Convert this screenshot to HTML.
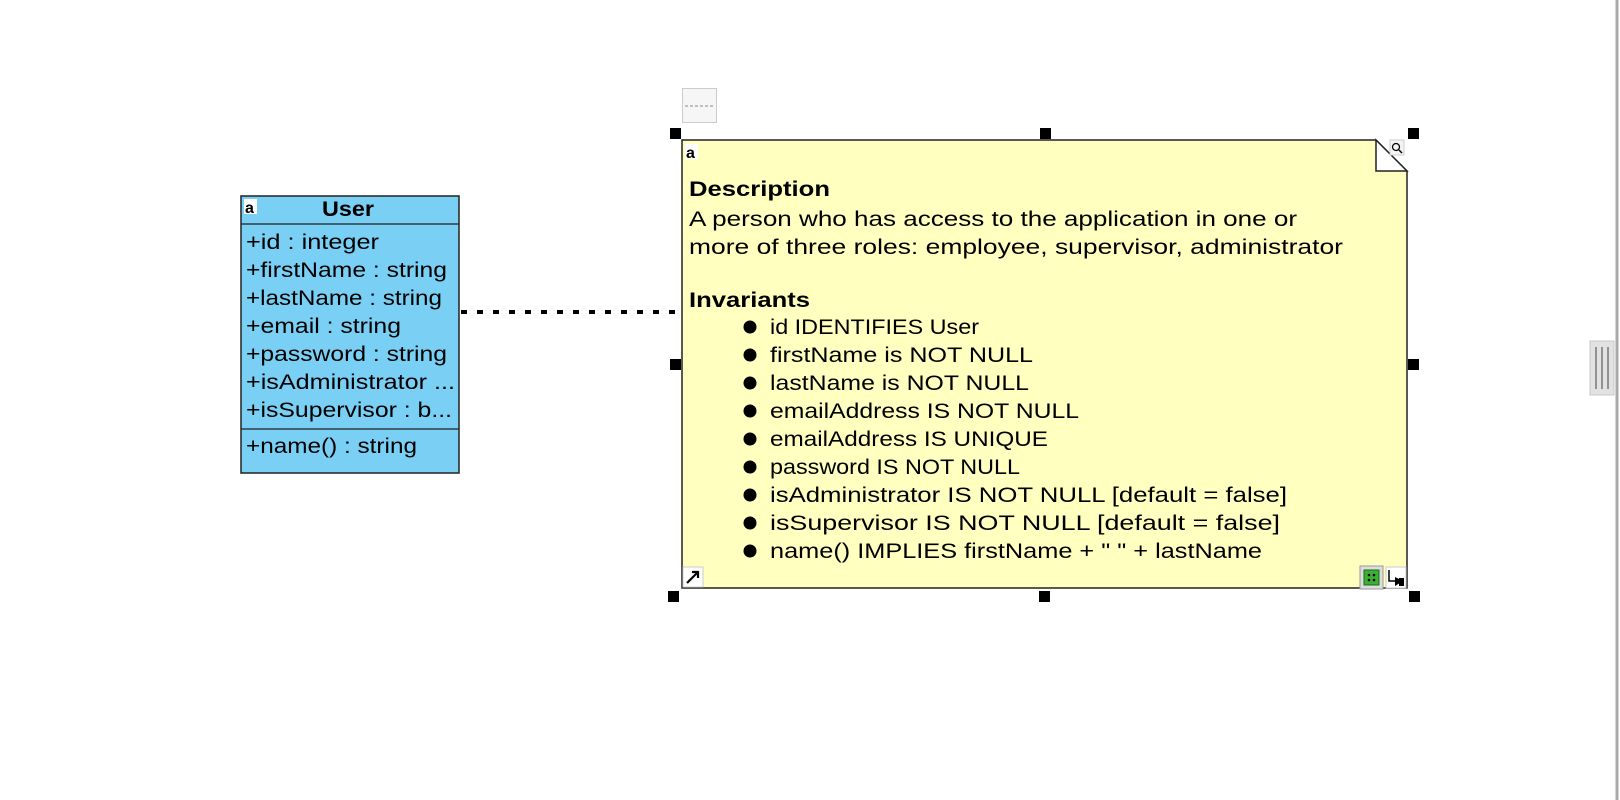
<!DOCTYPE html>
<html><head><meta charset="utf-8"><style>html,body{margin:0;padding:0;background:#fff;width:1620px;height:800px;overflow:hidden}</style></head>
<body>
<svg width="1620" height="800" xmlns="http://www.w3.org/2000/svg" font-family="Liberation Sans, DejaVu Sans, sans-serif" font-size="21">
<rect x="0" y="0" width="1620" height="800" fill="#fff"/>
<line x1="1617" y1="0" x2="1617" y2="800" stroke="#a8a8a8" stroke-width="3"/>
<rect x="1590" y="341" width="24" height="54" fill="#e2e2e2" stroke="#c8c8c8"/>
<line x1="1596" y1="347" x2="1596" y2="389" stroke="#777" stroke-width="1.5"/>
<line x1="1602" y1="347" x2="1602" y2="389" stroke="#777" stroke-width="1.5"/>
<line x1="1608" y1="347" x2="1608" y2="389" stroke="#777" stroke-width="1.5"/>

<line x1="461" y1="312" x2="681" y2="312" stroke="#000" stroke-width="4" stroke-dasharray="6 10"/>

<rect x="241" y="196" width="218" height="277" fill="#79cff4" stroke="#222" stroke-width="1.5"/>
<line x1="241" y1="224" x2="459" y2="224" stroke="#222" stroke-width="1.2"/>
<line x1="241" y1="429" x2="459" y2="429" stroke="#222" stroke-width="1.2"/>
<rect x="244" y="199" width="13" height="15" fill="#fff"/>
<text x="245" y="213" font-size="16" font-weight="bold" fill="#000">a</text>
<text x="322" y="216" font-weight="bold" textLength="52" lengthAdjust="spacingAndGlyphs">User</text>
<g fill="#000">
<text x="246" y="249" textLength="133" lengthAdjust="spacingAndGlyphs">+id : integer</text>
<text x="246" y="277" textLength="201" lengthAdjust="spacingAndGlyphs">+firstName : string</text>
<text x="246" y="305" textLength="196" lengthAdjust="spacingAndGlyphs">+lastName : string</text>
<text x="246" y="333" textLength="155" lengthAdjust="spacingAndGlyphs">+email : string</text>
<text x="246" y="361" textLength="201" lengthAdjust="spacingAndGlyphs">+password : string</text>
<text x="246" y="389" textLength="209" lengthAdjust="spacingAndGlyphs">+isAdministrator ...</text>
<text x="246" y="417" textLength="206" lengthAdjust="spacingAndGlyphs">+isSupervisor : b...</text>
<text x="246" y="453" textLength="171" lengthAdjust="spacingAndGlyphs">+name() : string</text>
</g>

<rect x="682.5" y="88.5" width="34" height="34" fill="#f6f6f6" stroke="#ccc"/>
<line x1="685" y1="106" x2="714" y2="106" stroke="#888" stroke-dasharray="3 2"/>

<path d="M682,140 L1376,140 L1407,171 L1407,588 L682,588 Z" fill="#ffffc0" stroke="#222" stroke-width="1.5"/>
<path d="M1376,140 L1376,171 L1407,171 Z" fill="#fff" stroke="#222" stroke-width="1.5"/>
<rect x="1390" y="140" width="14" height="15" fill="#f4f4f4" stroke="#ccc"/>
<circle cx="1396" cy="147" r="3.5" fill="none" stroke="#000" stroke-width="1.3"/>
<line x1="1399" y1="150" x2="1402" y2="153" stroke="#000" stroke-width="1.5"/>
<rect x="685" y="144" width="13" height="15" fill="#fff"/>
<text x="686" y="158" font-size="16" font-weight="bold">a</text>
<g fill="#000">
<text x="689" y="196" font-weight="bold" textLength="141" lengthAdjust="spacingAndGlyphs">Description</text>
<text x="689" y="226" textLength="608" lengthAdjust="spacingAndGlyphs">A person who has access to the application in one or</text>
<text x="689" y="254" textLength="654" lengthAdjust="spacingAndGlyphs">more of three roles: employee, supervisor, administrator</text>
<text x="689" y="307" font-weight="bold" textLength="121" lengthAdjust="spacingAndGlyphs">Invariants</text>
<g>
<circle cx="750" cy="327" r="6.5"/><text x="770" y="334" textLength="209" lengthAdjust="spacingAndGlyphs">id IDENTIFIES User</text>
<circle cx="750" cy="355" r="6.5"/><text x="770" y="362" textLength="263" lengthAdjust="spacingAndGlyphs">firstName is NOT NULL</text>
<circle cx="750" cy="383" r="6.5"/><text x="770" y="390" textLength="259" lengthAdjust="spacingAndGlyphs">lastName is NOT NULL</text>
<circle cx="750" cy="411" r="6.5"/><text x="770" y="418" textLength="309" lengthAdjust="spacingAndGlyphs">emailAddress IS NOT NULL</text>
<circle cx="750" cy="439" r="6.5"/><text x="770" y="446" textLength="278" lengthAdjust="spacingAndGlyphs">emailAddress IS UNIQUE</text>
<circle cx="750" cy="467" r="6.5"/><text x="770" y="474" textLength="250" lengthAdjust="spacingAndGlyphs">password IS NOT NULL</text>
<circle cx="750" cy="495" r="6.5"/><text x="770" y="502" textLength="517" lengthAdjust="spacingAndGlyphs">isAdministrator IS NOT NULL [default = false]</text>
<circle cx="750" cy="523" r="6.5"/><text x="770" y="530" textLength="510" lengthAdjust="spacingAndGlyphs">isSupervisor IS NOT NULL [default = false]</text>
<circle cx="750" cy="551" r="6.5"/><text x="770" y="558" textLength="492" lengthAdjust="spacingAndGlyphs">name() IMPLIES firstName + " " + lastName</text>
</g>
</g>
<rect x="683" y="567" width="20" height="20" fill="#fff" stroke="#ccc"/>
<path d="M687,583 L698,572 M692,572 L698,572 L698,578" stroke="#000" stroke-width="2.2" fill="none"/>
<rect x="1360" y="566" width="23" height="23" fill="#ddd" stroke="#999"/>
<rect x="1364" y="570" width="15" height="15" fill="#3cb034" stroke="#1a6a1a"/>
<circle cx="1369" cy="575" r="1.3"/><circle cx="1374" cy="575" r="1.3"/><circle cx="1369" cy="580" r="1.3"/><circle cx="1374" cy="580" r="1.3"/>
<rect x="1386" y="567" width="20" height="21" fill="#fff" stroke="#ccc"/>
<path d="M1389,570 L1389,581 L1398,581" stroke="#000" stroke-width="1.5" fill="none"/>
<path d="M1395,577 L1403,581 L1395,586 Z M1399,578 L1404,578 L1404,586 L1399,586Z" fill="#000"/>

<g fill="#000">
<rect x="670" y="128" width="11" height="11"/>
<rect x="1040" y="128" width="11" height="11"/>
<rect x="1408" y="128" width="11" height="11"/>
<rect x="670" y="359" width="11" height="11"/>
<rect x="1408" y="359" width="11" height="11"/>
<rect x="668" y="591" width="11" height="11"/>
<rect x="1039" y="591" width="11" height="11"/>
<rect x="1409" y="591" width="11" height="11"/>
</g>
</svg>
</body></html>
